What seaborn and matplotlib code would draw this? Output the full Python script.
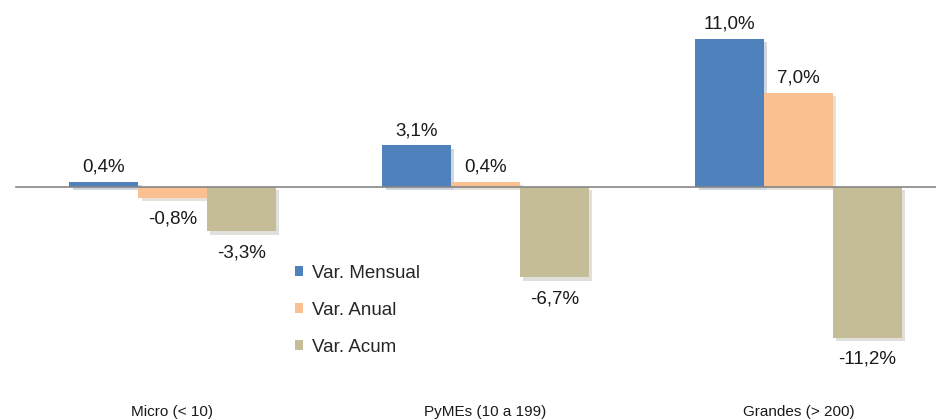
import seaborn as sns
import matplotlib.pyplot as plt
import matplotlib.patheffects as pe
import pandas as pd

categorias = ['Micro (< 10)', 'PyMEs (10 a 199)', 'Grandes (> 200)']
series = ['Var. Mensual', 'Var. Anual', 'Var. Acum']
var_mensual = [0.4, 3.1, 11.0]
var_anual = [-0.8, 0.4, 7.0]
var_acum = [-3.3, -6.7, -11.2]
colores = ['#4F81BD', '#FAC090', '#C4BD97']

df = pd.DataFrame({
    'cat': categorias * 3,
    'serie': [series[0]] * 3 + [series[1]] * 3 + [series[2]] * 3,
    'valor': var_mensual + var_anual + var_acum,
})

sns.set_style('white')
plt.rcParams['font.family'] = ['Liberation Sans', 'DejaVu Sans']

fig = plt.figure(figsize=(9.37, 4.19), dpi=100)
ax = fig.add_axes([16 / 937, 0, 921 / 937, 1])

sombra = [pe.SimplePatchShadow(offset=(2.5, -2.5), alpha=0.22, rho=0.6), pe.Normal()]
b = sns.barplot(data=df, x='cat', y='valor', hue='serie', order=categorias,
                hue_order=series, palette=colores, width=0.66, saturation=1,
                ax=ax, edgecolor='none', linewidth=0)
for bar in ax.patches:
    bar.set_path_effects(sombra)

# etiquetas de valor
for cont in ax.containers:
    for bar in cont:
        h = bar.get_height()
        x = bar.get_x() + bar.get_width() / 2
        txt = f'{h:.1f}%'.replace('.', ',')
        off = 10.5 if h >= 0 else -15.5
        ax.annotate(txt, (x, h), xytext=(0, off), textcoords='offset points',
                    ha='center', va='center', fontsize=13.5, color='#1a1a1a')

for s in ['left', 'top', 'right']:
    ax.spines[s].set_visible(False)
ax.spines['bottom'].set_position(('data', 0))
ax.spines['bottom'].set_color('#868686')
ax.spines['bottom'].set_linewidth(1.2)
ax.set_yticks([])
ax.set_xticks([-0.5, 0.5, 1.5, 2.5], minor=True)
ax.tick_params(axis='x', which='minor', length=4, direction='out', color='#868686', width=1)
ax.tick_params(axis='x', which='major', length=0, pad=157, labelsize=11, labelcolor='#1a1a1a')
for lab in ax.get_xticklabels():
    lab.set_family(['Liberation Sans Narrow', 'DejaVu Sans Condensed', 'Liberation Sans'])
ax.set_xlabel('')
ax.set_ylabel('')
ax.set_xlim(-0.5, 2.443)
ax.set_ylim(-17.25, 13.9)

leg = ax.legend(loc='upper left', bbox_to_anchor=(295 / 937, 1 - 265 / 419),
                bbox_transform=fig.transFigure, frameon=False, fontsize=13.5,
                handlelength=0.45, handleheight=0.45, handletextpad=0.45,
                labelspacing=1.06, borderpad=0, borderaxespad=0, title=None)
for h in leg.legend_handles:
    h.set_path_effects([])

plt.savefig('out.png', dpi=100)
